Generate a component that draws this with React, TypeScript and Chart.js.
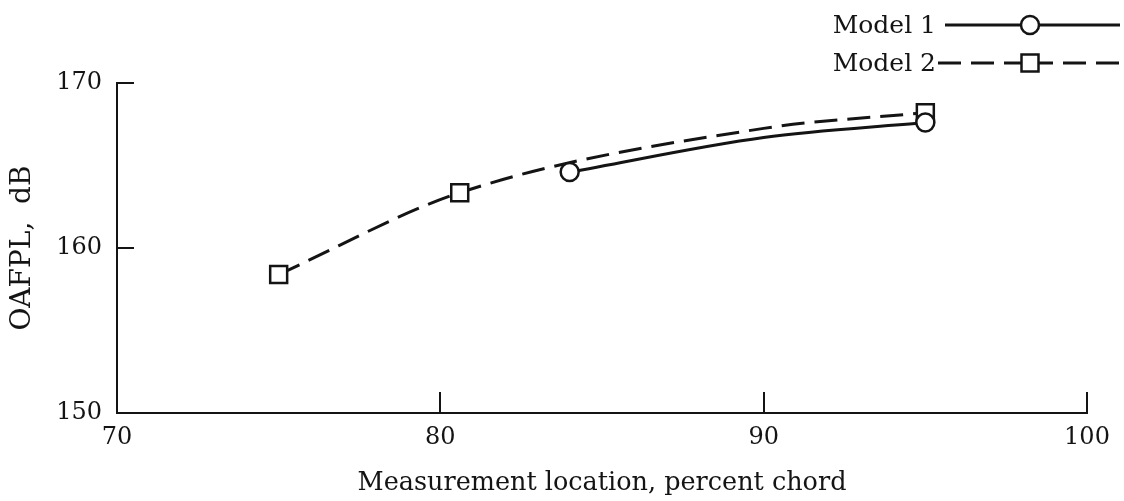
import React, { useEffect, useRef } from 'react';
import { Chart, registerables } from 'chart.js';

Chart.register(...registerables);

// ---- data ----
const model1Label = 'Model 1';
const model1X = [84, 90, 95];
const model1Y = [164.6, 166.7, 167.6];
const model1Marked = [true, false, true]; // middle value is a reading along the faired curve

const model2Label = 'Model 2';
const model2X = [75, 80.6, 90, 95];
const model2Y = [158.4, 163.35, 167.25, 168.2];
const model2Marked = [true, true, false, true]; // 90 is a reading along the faired curve

const xTickValues = [70, 80, 90, 100];
const yTickValues = [150, 160, 170];
const xTitle = 'Measurement location, percent chord';
const yTitle = 'OAFPL,  dB';

const INK = '#141414';
const FONT = 'DejaVu Serif';
const DASH = [23, 10];

const innerTicks = {
  id: 'innerTicks',
  afterDraw(chart: any) {
    const { ctx, scales } = chart;
    const x = scales.x;
    const y = scales.y;
    ctx.save();
    ctx.strokeStyle = INK;
    ctx.lineWidth = 2;
    xTickValues.forEach((v) => {
      if (v === x.min) return;
      const px = Math.round(x.getPixelForValue(v));
      ctx.beginPath();
      ctx.moveTo(px, y.bottom);
      ctx.lineTo(px, y.bottom - 21);
      ctx.stroke();
    });
    yTickValues.forEach((v) => {
      if (v === y.min) return;
      const py = Math.round(y.getPixelForValue(v));
      ctx.beginPath();
      ctx.moveTo(x.left, py);
      ctx.lineTo(x.left + 17, py);
      ctx.stroke();
    });
    ctx.restore();
  },
};

const sideLegend = {
  id: 'sideLegend',
  afterDraw(chart: any) {
    const { ctx } = chart;
    const rows = [
      { ds: chart.data.datasets[0], y: 25, lineStart: 945, textRight: 936, style: 'circle' },
      { ds: chart.data.datasets[1], y: 63, lineStart: 938, textRight: 936, style: 'rect' },
    ];
    const lineEnd = 1120;
    const markX = 1030;
    ctx.save();
    rows.forEach((r) => {
      ctx.font = `25px "${FONT}"`;
      ctx.fillStyle = INK;
      ctx.textAlign = 'right';
      ctx.textBaseline = 'middle';
      ctx.fillText(r.ds.label, r.textRight, r.y + 1);
      ctx.strokeStyle = INK;
      ctx.lineWidth = 3;
      ctx.setLineDash(r.ds.borderDash || []);
      ctx.beginPath();
      ctx.moveTo(r.lineStart, r.y);
      ctx.lineTo(markX, r.y);
      ctx.stroke();
      ctx.beginPath();
      ctx.moveTo(markX, r.y);
      ctx.lineTo(lineEnd, r.y);
      ctx.stroke();
      ctx.setLineDash([]);
      ctx.lineWidth = 2.5;
      ctx.fillStyle = '#fff';
      ctx.beginPath();
      if (r.style === 'circle') {
        ctx.arc(markX, r.y, 9, 0, Math.PI * 2);
      } else {
        ctx.rect(markX - 8.5, r.y - 8.5, 17, 17);
      }
      ctx.fill();
      ctx.stroke();
    });
    ctx.restore();
  },
};

export default function App() {
  const ref = useRef<HTMLCanvasElement>(null);

  useEffect(() => {
    document.body.style.margin = '0';
    const canvas = ref.current;
    if (!canvas) return;
    const chart = new Chart(canvas, {
      type: 'line',
      data: {
        datasets: [
          {
            label: model1Label,
            data: model1X.map((x, i) => ({ x, y: model1Y[i] })),
            borderColor: INK,
            borderWidth: 3,
            pointStyle: 'circle',
            pointRadius: model1Marked.map((m) => (m ? 9 : 0)),
            pointBorderWidth: 2.5,
            pointBorderColor: INK,
            pointBackgroundColor: '#fff',
            cubicInterpolationMode: 'monotone',
            fill: false,
          },
          {
            label: model2Label,
            data: model2X.map((x, i) => ({ x, y: model2Y[i] })),
            borderColor: INK,
            borderWidth: 3,
            borderDash: DASH,
            pointStyle: 'rect',
            pointRadius: model2Marked.map((m) => (m ? 12 : 0)),
            pointBorderWidth: 2.5,
            pointBorderColor: INK,
            pointBackgroundColor: '#fff',
            cubicInterpolationMode: 'monotone',
            fill: false,
          },
        ],
      },
      options: {
        animation: false,
        responsive: false,
        events: [],
        layout: { padding: { top: 83, right: 37, left: 0, bottom: 0 } },
        plugins: {
          legend: { display: false },
          tooltip: { enabled: false },
        },
        scales: {
          x: {
            type: 'linear',
            min: 70,
            max: 100,
            afterBuildTicks: (s: any) => {
              s.ticks = xTickValues.map((v) => ({ value: v }));
            },
            afterFit: (s: any) => {
              s.height = 88;
            },
            grid: { display: false, drawTicks: false },
            border: { display: true, color: INK, width: 2 },
            ticks: {
              padding: 10,
              color: INK,
              maxRotation: 0,
              font: { family: FONT, size: 24 },
            },
            title: {
              display: true,
              text: xTitle,
              color: INK,
              font: { family: FONT, size: 25.5 },
              padding: { top: 0, bottom: 2 },
            },
          },
          y: {
            type: 'linear',
            min: 150,
            max: 170,
            afterBuildTicks: (s: any) => {
              s.ticks = yTickValues.map((v) => ({ value: v }));
            },
            afterFit: (s: any) => {
              s.width = 117;
            },
            grid: { display: false, drawTicks: false },
            border: { display: true, color: INK, width: 2 },
            ticks: {
              padding: 15,
              color: INK,
              font: { family: FONT, size: 24 },
            },
            title: {
              display: true,
              text: yTitle,
              color: INK,
              font: { family: FONT, size: 28 },
              padding: { top: 6, bottom: 0 },
            },
          },
        },
      },
      plugins: [innerTicks, sideLegend],
    } as any);
    return () => chart.destroy();
  }, []);

  return (
    <div style={{ width: 1124, height: 501 }}>
      <canvas ref={ref} width={1124} height={501} style={{ display: 'block' }} />
    </div>
  );
}
